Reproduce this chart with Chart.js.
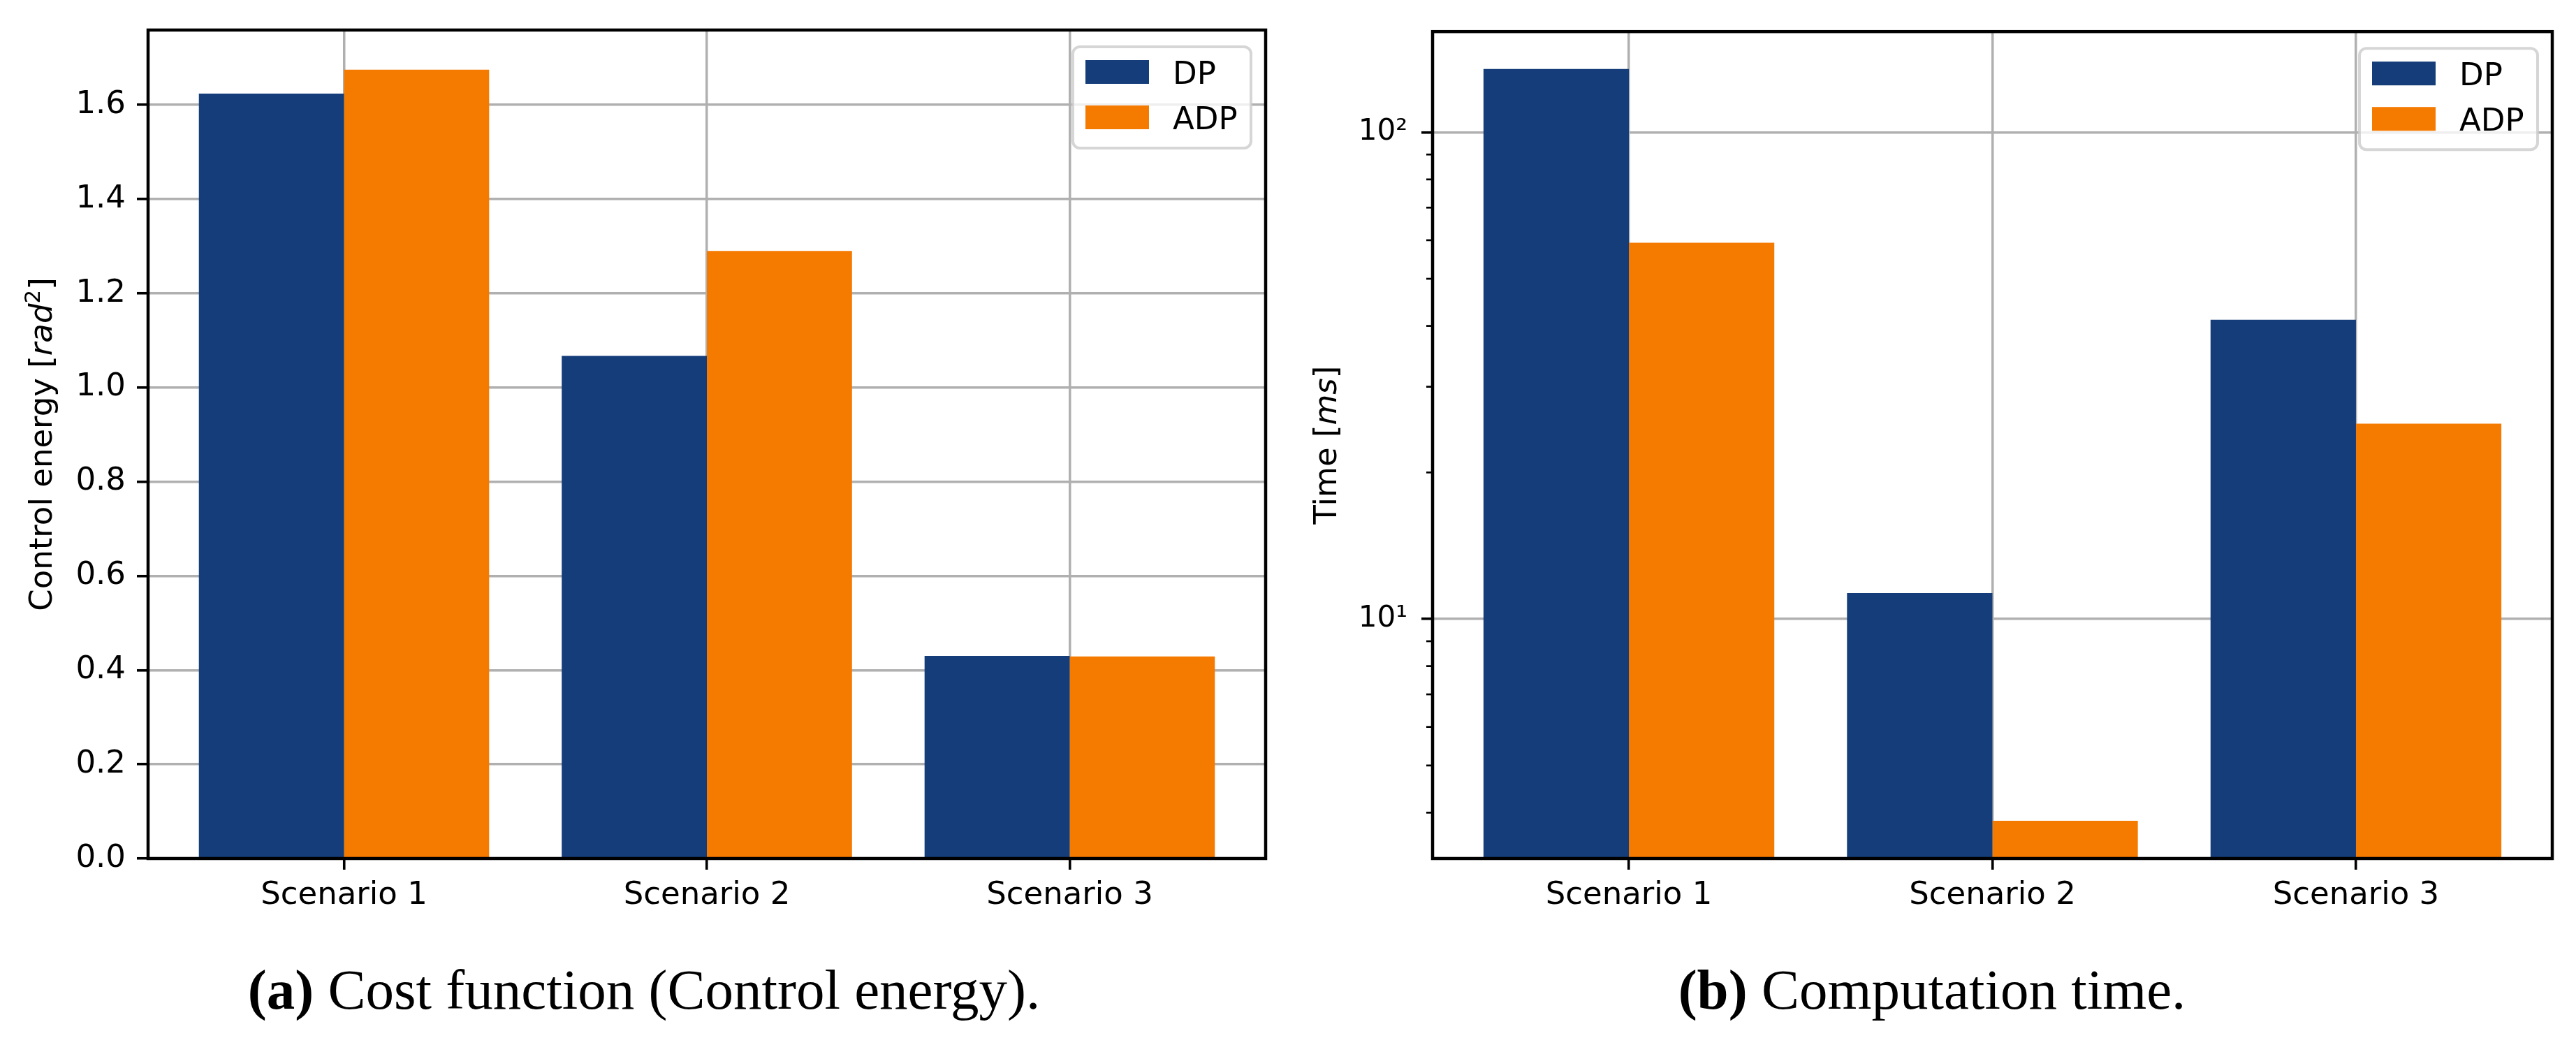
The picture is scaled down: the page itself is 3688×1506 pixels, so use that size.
<!DOCTYPE html>
<html><head><meta charset="utf-8">
<script src="https://cdn.jsdelivr.net/npm/chart.js@4.4.0/dist/chart.umd.min.js"></script>
<style>
html,body{margin:0;padding:0;background:#fff;}
#wrap{position:relative;width:3688px;height:1506px;overflow:hidden;background:#fff;}
canvas{position:absolute;top:0;}
.cap{position:absolute;width:1844px;text-align:center;font-family:"Liberation Serif",serif;font-size:81px;line-height:81px;color:#000;white-space:nowrap;}
</style></head><body>
<div id="wrap">
<canvas id="c1" width="1844" height="1506" style="left:0;width:1844px;height:1506px"></canvas>
<canvas id="c2" width="1844" height="1506" style="left:1844px;width:1844px;height:1506px"></canvas>
<div class="cap" style="left:0;top:1377px"><b>(a)</b> Cost function (Control energy).</div>
<div class="cap" style="left:1844px;top:1377px"><b>(b)</b> Computation time.</div>
</div>
<script>
// ---- data ----
const scenarios = ['Scenario 1', 'Scenario 2', 'Scenario 3'];
const seriesNames = ['DP', 'ADP'];
const energyDP  = [1.624, 1.067, 0.430];
const energyADP = [1.675, 1.290, 0.429];
const timeDP    = [134.9, 11.3, 41.2];
const timeADP   = [59.3, 3.85, 25.2];
const energyRange = [0, 1.759];
const timeRange   = [3.22, 161];
const xRange      = [-0.54, 2.54];
const logLabels   = {10: '10\u00B9', 100: '10\u00B2'};

const COLORS = ['#143d7a', '#f57a00'];
const FAM = '"DejaVu Sans", sans-serif';
Chart.defaults.color = '#000';

function drawYTitle(ctx, cx, cy, parts) {
  ctx.save();
  ctx.translate(cx, cy);
  ctx.rotate(-Math.PI / 2);
  let total = 0;
  parts.forEach(p => { ctx.font = p.font; p.w = ctx.measureText(p.text).width; total += p.w; });
  let x = -total / 2;
  ctx.textBaseline = 'alphabetic';
  ctx.textAlign = 'left';
  ctx.fillStyle = '#000';
  parts.forEach(p => { ctx.font = p.font; ctx.fillText(p.text, x, 16.5 + (p.dy || 0)); x += p.w; });
  ctx.restore();
}

function decor(titleParts, logMinor) {
  return {
    id: 'decor',
    afterDraw(chart) {
      const ctx = chart.ctx, a = chart.chartArea;
      ctx.save();
      if (logMinor) {
        const ys = chart.scales.y;
        ctx.strokeStyle = '#000';
        ctx.lineWidth = 2.7;
        ys.ticks.forEach(t => {
          if (!t.major) {
            const p = ys.getPixelForValue(t.value);
            ctx.beginPath(); ctx.moveTo(a.left - 9, p); ctx.lineTo(a.left, p); ctx.stroke();
          }
        });
      }
      // frame
      ctx.strokeStyle = '#000';
      ctx.lineWidth = 4.5;
      ctx.strokeRect(a.left, a.top, a.right - a.left, a.bottom - a.top);
      // legend
      const L = a.right - 276, R = a.right - 21, T = a.top + 24, B = a.top + 169;
      ctx.beginPath();
      ctx.roundRect(L, T, R - L, B - T, 10);
      ctx.fillStyle = 'rgba(255,255,255,0.8)';
      ctx.fill();
      ctx.lineWidth = 4;
      ctx.strokeStyle = 'rgba(204,204,204,0.8)';
      ctx.stroke();
      const rows = [43, 108];
      chart.data.datasets.forEach((ds, i) => {
        ctx.fillStyle = ds.backgroundColor;
        ctx.fillRect(a.right - 258, a.top + rows[i], 91, 34);
        ctx.fillStyle = '#000';
        ctx.font = '45px ' + FAM;
        ctx.textAlign = 'left';
        ctx.textBaseline = 'alphabetic';
        ctx.fillText(ds.label, a.right - 133, a.top + rows[i] + 17 + 16.5);
      });
      ctx.restore();
      drawYTitle(ctx, a.left - 155, (a.top + a.bottom) / 2, titleParts);
    }
  };
}

function makeChart(id, dp, adp, area, yScale, titleParts, isLog) {
  const xTickFont = {family: FAM, size: 45};
  return new Chart(document.getElementById(id), {
    type: 'bar',
    data: {
      datasets: [
        {label: seriesNames[0], data: dp.map((v, i) => ({x: i, y: v})), backgroundColor: COLORS[0],
         borderWidth: 0, categoryPercentage: 0.8, barPercentage: 1.0},
        {label: seriesNames[1], data: adp.map((v, i) => ({x: i, y: v})), backgroundColor: COLORS[1],
         borderWidth: 0, categoryPercentage: 0.8, barPercentage: 1.0}
      ]
    },
    options: {
      responsive: false, animation: false, devicePixelRatio: 1,
      layout: {padding: {top: area.top, right: area.right, left: 0, bottom: 0}},
      plugins: {legend: {display: false}, tooltip: {enabled: false}},
      scales: {
        x: {
          type: 'linear', min: xRange[0], max: xRange[1], offset: false, z: 1,
          afterFit(s) { s.height = area.xh; },
          border: {display: false},
          grid: {offset: false, color: '#b0b0b0', lineWidth: 3.5, drawTicks: true, tickLength: 16, tickColor: '#000', tickWidth: 3.6},
          ticks: {stepSize: 1, includeBounds: false, autoSkip: false, maxRotation: 0, minRotation: 0, padding: 10,
                  color: '#000', font: xTickFont, callback: v => scenarios[v] !== undefined ? scenarios[v] : ''}
        },
        y: yScale
      }
    },
    plugins: [decor(titleParts, isLog)]
  });
}

// left chart: linear
makeChart('c1', energyDP, energyADP, {top: 37, right: 32, xh: 277}, {
  type: 'linear', min: energyRange[0], max: energyRange[1], z: 1,
  afterFit(s) { s.width = 212; },
  border: {display: false},
  grid: {color: '#b0b0b0', lineWidth: 3.5, drawTicks: true, tickLength: 16, tickColor: '#000', tickWidth: 3.6},
  ticks: {stepSize: 0.2, includeBounds: false, autoSkip: false, padding: 16, color: '#000',
          font: {family: FAM, size: 45}, callback: v => Number(v).toFixed(1)}
}, [
  {text: 'Control energy [', font: '45px ' + FAM},
  {text: 'rad', font: 'italic 45px ' + FAM},
  {text: '2', font: '31px ' + FAM, dy: -17},
  {text: ']', font: '45px ' + FAM}
], false);

// right chart: log
makeChart('c2', timeDP, timeADP, {top: 34, right: 34, xh: 277}, {
  type: 'logarithmic', min: timeRange[0], max: timeRange[1], z: 1,
  afterFit(s) { s.width = 207; },
  afterBuildTicks(s) {
    const t = [];
    for (let e = Math.floor(Math.log10(s.min)); e <= Math.ceil(Math.log10(s.max)); e++) {
      for (let m = 1; m < 10; m++) {
        const v = Math.round(m * Math.pow(10, e) * 1000) / 1000;
        if (v >= s.min && v <= s.max) t.push({value: v, major: m === 1});
      }
    }
    s.ticks = t;
  },
  border: {display: false},
  grid: {
    color: c => (c.tick && c.tick.major) ? '#b0b0b0' : 'rgba(0,0,0,0)',
    lineWidth: 3.5, drawTicks: true, tickLength: 16,
    tickColor: c => (c.tick && c.tick.major) ? '#000' : 'rgba(0,0,0,0)', tickWidth: 3.6
  },
  ticks: {autoSkip: false, padding: 20, color: '#000', font: {family: FAM, size: 42},
          callback: v => logLabels[v] || ''}
}, [
  {text: 'Time [', font: '45px ' + FAM},
  {text: 'ms', font: 'italic 45px ' + FAM},
  {text: ']', font: '45px ' + FAM}
], true);
</script>
</body></html>
